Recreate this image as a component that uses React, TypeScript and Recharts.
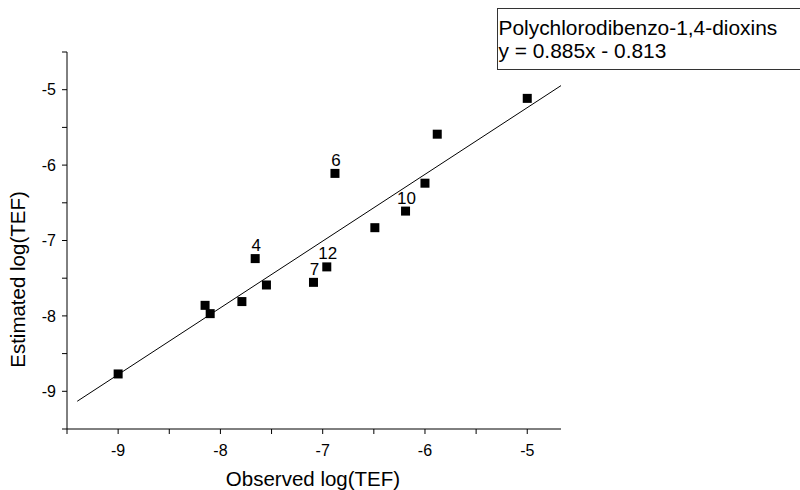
import React from 'react';
import { ScatterChart, Scatter, XAxis, YAxis, ReferenceLine, Label } from 'recharts';

const observed = [-9.0, -8.15, -8.1, -7.79, -7.66, -7.55, -7.09, -6.96, -6.88, -6.49, -6.19, -6.0, -5.88, -5.0];
const estimated = [-8.77, -7.86, -7.97, -7.81, -7.24, -7.59, -7.555, -7.35, -6.11, -6.83, -6.61, -6.24, -5.59, -5.115];
const pointLabels = ['', '', '', '', '4', '', '7', '12', '6', '', '10', '', '', ''];

const xTicks = [-9.5, -9, -8.5, -8, -7.5, -7, -6.5, -6, -5.5, -5];
const yTicks = [-9.5, -9, -8.5, -8, -7.5, -7, -6.5, -6, -5.5, -5, -4.5];
const xDomain: [number, number] = [-9.5, -4.67];
const yDomain: [number, number] = [-9.5, -4.5];

const slope = 0.885;
const intercept = -0.813;
const fitX = [-9.4, -4.67];

const seriesName = 'Polychlorodibenzo-1,4-dioxins';
const equation = 'y = 0.885x - 0.813';
const xTitle = 'Observed log(TEF)';
const yTitle = 'Estimated log(TEF)';

const FONT = '"Liberation Sans", Arial, Helvetica, sans-serif';

const data = observed.map((x, i) => ({ x, y: estimated[i], label: pointLabels[i] }));
const fitSegment = fitX.map((x) => ({ x, y: slope * x + intercept }));

const isInt = (v: number) => Math.abs(v - Math.round(v)) < 1e-9;

const XTick = (props: any) => {
  const { x, y, payload } = props;
  if (!isInt(payload.value)) return <g />;
  return (
    <text x={x} y={y} dy="0.71em" textAnchor="middle" fontSize={16} fontFamily={FONT} fill="#000">
      {payload.value}
    </text>
  );
};

const YTick = (props: any) => {
  const { x, y, payload } = props;
  if (!isInt(payload.value)) return <g />;
  return (
    <text x={x} y={y} dy="0.355em" textAnchor="end" fontSize={16} fontFamily={FONT} fill="#000">
      {payload.value}
    </text>
  );
};

const SquareShape = (props: any) => {
  const { cx, cy, payload } = props;
  const s = 9;
  return (
    <g>
      <rect x={cx - s / 2} y={cy - s / 2} width={s} height={s} fill="#000" />
      {payload.label ? (
        <text x={cx + 1} y={cy - 7.5} textAnchor="middle" fontSize={17} fontFamily={FONT} fill="#000">
          {payload.label}
        </text>
      ) : null}
    </g>
  );
};

export default function App() {
  return (
    <div style={{ position: 'absolute', left: 0, top: 0, width: 800, height: 490, background: '#fff' }}>
      <ScatterChart width={800} height={490} margin={{ top: 52, right: 239, bottom: 0, left: 0 }}>
        <XAxis
          type="number"
          dataKey="x"
          domain={xDomain}
          ticks={xTicks}
          interval={0}
          allowDataOverflow
          height={61}
          tickSize={5}
          tickMargin={11}
          stroke="#000"
          axisLine={{ stroke: '#000', strokeWidth: 1 }}
          tickLine={{ stroke: '#000' }}
          tick={<XTick />}
        >
          <Label
            content={(p: any) => {
              const vb = p.viewBox || {};
              return (
                <text x={vb.x + vb.width / 2 - 1} y={vb.y + vb.height - 4} textAnchor="middle" fontSize={20.5} fontFamily={FONT} fill="#000">
                  {xTitle}
                </text>
              );
            }}
          />
        </XAxis>
        <YAxis
          type="number"
          dataKey="y"
          domain={yDomain}
          ticks={yTicks}
          interval={0}
          allowDataOverflow
          width={67}
          tickSize={5}
          tickMargin={6}
          stroke="#000"
          axisLine={{ stroke: '#000', strokeWidth: 1 }}
          tickLine={{ stroke: '#000' }}
          tick={<YTick />}
        >
          <Label
            content={(p: any) => {
              const vb = p.viewBox || {};
              const cx = vb.x + 24.5;
              const cy = vb.y + vb.height / 2 + 39;
              return (
                <text x={cx} y={cy} transform={`rotate(-90, ${cx}, ${cy})`} textAnchor="middle" fontSize={20.5} fontFamily={FONT} fill="#000">
                  {yTitle}
                </text>
              );
            }}
          />
        </YAxis>
        <ReferenceLine segment={fitSegment} stroke="#000" strokeWidth={1} ifOverflow="visible" />
        <Scatter data={data} shape={<SquareShape />} isAnimationActive={false} />
      </ScatterChart>
      <svg width={800} height={490} style={{ position: 'absolute', left: 0, top: 0, pointerEvents: 'none' }}>
        <rect x={497.5} y={8.5} width={320} height={61} fill="#fff" stroke="#333" strokeWidth={1} />
        <text x={498.5} y={35} fontSize={20.9} fontFamily={FONT} fill="#000">{seriesName}</text>
        <text x={498.5} y={57.5} fontSize={20.9} fontFamily={FONT} fill="#000">{equation}</text>
      </svg>
    </div>
  );
}
